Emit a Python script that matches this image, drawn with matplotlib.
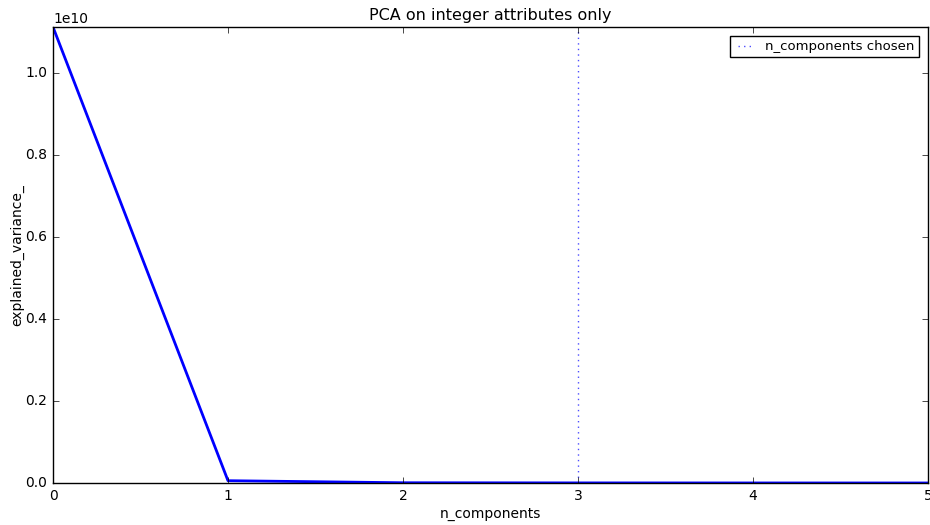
import numpy as np
import matplotlib
matplotlib.use('Agg')
import matplotlib.pyplot as plt

plt.style.use('classic')

n_components = [0, 1, 2, 3, 4, 5]
explained_variance = [1.112e10, 5.6e7, 6e6, 2.5e6, 1.2e6, 5e5]
n_chosen = 3

fig = plt.figure(figsize=(9.3, 5.25), dpi=100, facecolor='white')
ax = fig.add_axes([53/930, 1 - 483/525, 875/930, 456/525])

ax.plot(n_components, explained_variance, color='blue', linewidth=2)
ax.axvline(n_chosen, linestyle=':', color='blue', alpha=0.7,
           label='n_components chosen')

ax.set_xlim(0, 5)
ax.set_ylim(0, 1.112e10)
ax.set_title('PCA on integer attributes only', fontsize=11.5)
ax.set_xlabel('n_components', fontsize=10, labelpad=3)
ax.set_ylabel('explained_variance_', fontsize=10, labelpad=1)
ax.tick_params(labelsize=10)
ax.yaxis.get_offset_text().set_fontsize(10)
ax.legend(loc='upper right', fontsize=9.5, handlelength=1.6,
          borderpad=0.3, borderaxespad=0.7)

fig.savefig('out.png', dpi=100, facecolor='white')
